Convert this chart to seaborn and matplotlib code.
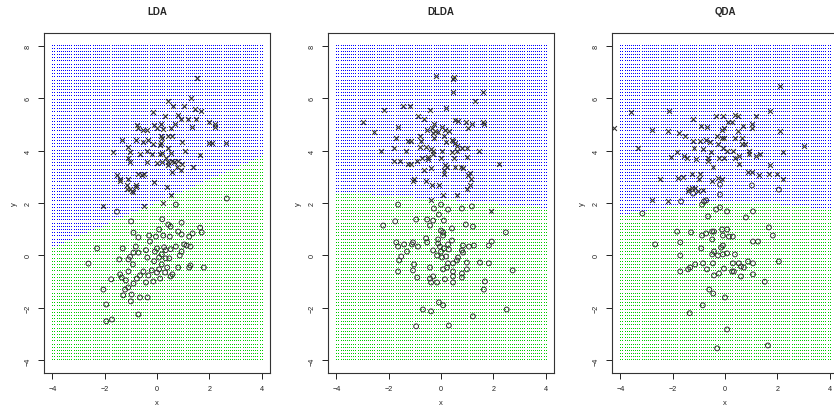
import numpy as np
import pandas as pd
import seaborn as sns
import matplotlib
matplotlib.use("Agg")
import matplotlib.pyplot as plt

# ---- data ----
titles = ["LDA", "DLDA", "QDA"]

# LDA: class "x"
lda_cross_x = [1.52, 1.3, 0.42, 0.6, 1.03, 1.45, 1.68, -0.15, 0.3, 0.8, 0.91, 1.18, 1.5, 1.99, 2.21, 2.2,
               -0.77, -0.71, -0.52, -0.4, -0.11, 0.0, 0.14, 0.24, 0.52, 0.69, 1.32, 0.17, 0.43, 0.59,
               -1.35, -0.81, -0.52, -0.33, -0.14, 0.14, 0.2, 0.11, 0.94, 2.0, 2.1, 2.65, -1.67, -1.09,
               -1.05, -0.65, -0.4, -0.2, 0.12, 0.2, 0.41, 0.52, 1.07, 1.64, -1.09, -1.05, -0.4, 0.0,
               0.2, 0.33, 0.43, 0.56, 0.65, 0.79, 0.94, 0.43, 0.75, 0.91, 1.36, 0.58, -1.52, -1.41,
               -1.09, -0.71, -0.58, -0.49, -0.11, -1.15, -1.03, -0.95, -0.81, 0.37, -2.06, 0.53, -0.5,
               -1.14, -0.8, -0.91, -1.4, 0.24]
lda_cross_y = [6.78, 6.0, 5.87, 5.7, 5.7, 5.6, 5.52, 5.45, 5.3, 5.34, 5.2, 5.22, 5.2, 5.07, 5.03, 4.9,
               4.96, 4.87, 4.8, 4.77, 4.96, 4.87, 5.03, 4.83, 4.87, 5.03, 4.9, 4.57, 4.57, 4.57,
               4.4, 4.4, 4.33, 4.4, 4.24, 4.3, 4.46, 4.2, 4.33, 4.3, 4.3, 4.3, 3.95, 4.14,
               3.95, 3.88, 4.0, 3.88, 3.85, 3.92, 4.1, 3.92, 4.0, 3.82, 3.7, 3.58, 3.58, 3.54,
               3.58, 3.7, 3.58, 3.62, 3.58, 3.62, 3.5, 3.43, 3.39, 3.24, 3.39, 3.2, 3.05, 2.93,
               2.93, 3.12, 3.05, 3.12, 2.81, 2.67, 2.55, 2.45, 2.62, 2.62, 1.87, 2.3, 1.9,
               2.55, 2.67, 2.43, 2.82, 2.0]
# LDA: class "o"
lda_circle_x = [0.72, 2.67, -1.53, -0.99, 0.2, 0.43, 0.52, 0.94, 0.08, 0.81, 0.94, 1.36, 1.65, 1.71, 1.23,
                -0.9, -0.71, -0.3, -0.04, 0.24, 0.49, -0.27, 1.04, 1.13, 1.28, 0.72, -0.81, -1.31, -2.29,
                -0.42, 0.0, 0.27, 0.33, 0.52, -0.08, 0.94, -0.9, -0.71, 0.18, 0.87, -1.03, -1.09, -1.44,
                -0.37, 0.08, 0.33, 0.47, -0.11, -2.62, -0.92, 0.18, 0.39, 0.81, 1.23, 1.28, 1.79, -0.2,
                0.08, -1.09, -0.52, 0.0, 0.31, -1.41, -0.65, -0.33, 0.52, 0.59, -1.75, -1.35, -1.19,
                -0.77, -0.14, 0.12, -0.9, -0.42, -1.22, -1.1, -2.05, -0.97, -1.29, -0.65, -0.36, -1.0,
                -1.94, -0.71, -1.94, -1.72]
lda_circle_y = [1.94, 2.17, 1.67, 1.3, 1.38, 1.18, 1.1, 1.25, 0.99, 0.91, 0.8, 0.84, 1.06, 0.88, 0.72,
                0.87, 0.69, 0.76, 0.72, 0.76, 0.72, 0.53, 0.42, 0.38, 0.34, 0.34, 0.34, 0.27, 0.27,
                0.2, 0.27, 0.31, 0.2, 0.24, 0.15, 0.15, 0.11, 0.11, 0.04, 0.0, -0.05, -0.15, -0.15,
                -0.08, -0.08, -0.11, -0.11, -0.22, -0.31, -0.34, -0.34, -0.46, -0.46, -0.46, -0.38, -0.46, -0.57,
                -0.53, -0.61, -0.61, -0.65, -0.65, -0.72, -0.76, -0.76, -0.8, -0.72, -0.91, -0.84, -0.95,
                -0.88, -0.99, -0.88, -1.07, -1.03, -1.3, -1.22, -1.3, -1.49, -1.52, -1.6, -1.6, -1.75,
                -1.87, -2.25, -2.51, -2.44]

# DLDA
dlda_cross_x = [0.46, 0.46, 1.6, 1.3, -2.17, -1.45, -1.18, -0.42, 0.19, -2.97, -0.88, -0.65, 0.53, 0.65,
                0.95, 1.18, 1.6, 1.64, -2.55, -1.63, -0.27, -0.53, -0.34, -0.23, 0.04, 0.15, 0.3, 1.03,
                -0.3, -0.11, 0.11, -0.8, -1.71, -1.26, -1.14, -0.76, -0.27, 0.19, 0.42, 0.46, 0.53, 0.61,
                -0.8, -0.57, -0.38, -0.3, -2.29, -1.79, -1.33, 0.04, 0.42, 0.61, 0.8, 0.99, 1.45, -0.3,
                -1.79, -1.56, -0.91, -0.72, -0.49, -0.49, 0.0, 0.5, 0.99, -1.26, -1.14, 0.15, 0.23, 0.53,
                0.76, 0.84, 2.21, -0.38, -0.65, 0.11, 0.11, 1.1, 1.03, 1.14, -1.03, -1.07, -0.57, -0.34,
                -0.08, 1.1, 0.99, 0.08, 0.61, -0.38, 1.9, -0.2, 0.5]
dlda_cross_y = [6.74, 6.25, 6.25, 5.9, 5.56, 5.68, 5.68, 5.56, 5.64, 5.1, 5.3, 5.22, 5.18, 5.14,
                5.1, 5.0, 5.1, 5.0, 4.72, 4.91, 5.0, 4.8, 4.84, 4.76, 4.91, 4.8, 4.76, 4.84,
                4.65, 4.72, 4.57, 4.57, 4.46, 4.38, 4.38, 4.38, 4.46, 4.34, 4.42, 4.38, 4.27, 4.19,
                4.15, 4.15, 4.04, 4.0, 4.0, 4.08, 4.0, 4.0, 3.96, 4.0, 4.08, 4.11, 4.0, 3.85,
                3.62, 3.62, 3.62, 3.73, 3.77, 3.66, 3.7, 3.73, 3.77, 3.47, 3.47, 3.43, 3.39, 3.39,
                3.39, 3.35, 3.47, 3.35, 3.24, 3.24, 3.12, 3.16, 3.05, 2.9, 2.9, 2.82, 2.82, 2.7,
                2.7, 2.67, 2.55, 2.29, 2.32, 2.1, 1.71, 6.85, 6.8]
dlda_circle_x = [-1.64, 0.0, -0.27, 0.27, 0.8, 1.18, -0.08, 0.11, -2.21, -1.75, -0.95, -0.53, -0.3, -0.42,
                 0.42, 0.95, 1.22, 2.48, 0.0, 0.08, 0.08, -0.57, -0.11, 0.42, -1.71, -1.41, -1.64, -1.07,
                 -1.11, -0.88, -0.53, -0.11, 0.27, 0.84, 1.07, 1.26, 1.83, 1.94, -0.04, 0.11, -0.3, 0.3,
                 0.8, -1.3, 0.0, 0.84, -0.15, 0.04, 0.19, -1.6, -1.52, 0.65, -1.03, -0.42, 0.27, 0.46,
                 0.61, 0.99, 1.49, 1.83, -1.64, -1.07, 0.08, 0.23, 0.46, 0.99, 2.74, -0.91, -0.42, -0.3,
                 0.15, 0.46, 0.8, -0.38, -0.15, 0.46, 0.8, 1.68, 1.64, -0.08, 0.08, -0.69, -0.38, 2.51,
                 1.22, -0.95, 0.3]
dlda_circle_y = [1.94, 1.94, 1.79, 1.75, 1.79, 1.87, 1.56, 1.33, 1.14, 1.3, 1.37, 1.37, 1.33, 1.14,
                 1.03, 1.18, 1.1, 0.88, 0.95, 0.88, 0.76, 0.65, 0.61, 0.57, 0.5, 0.42, 0.34, 0.5,
                 0.42, 0.34, 0.5, 0.46, 0.42, 0.38, 0.34, 0.38, 0.38, 0.53, 0.34, 0.27, 0.19, 0.23,
                 0.19, 0.15, 0.15, 0.11, 0.0, -0.08, -0.04, -0.19, -0.04, -0.08, -0.34, -0.46, -0.3, -0.3,
                 -0.19, -0.27, -0.27, -0.3, -0.61, -0.57, -0.53, -0.46, -0.61, -0.53, -0.57, -0.84, -0.88, -0.8,
                 -0.91, -0.8, -0.84, -1.03, -1.03, -1.03, -0.69, -0.99, -1.3, -1.79, -1.9, -2.06, -2.13, -2.06,
                 -2.32, -2.7, -2.67]

# QDA
qda_cross_x = [2.1, -3.58, -2.13, 1.71, -1.22, -0.34, -0.08, 0.38, 0.5, 1.18, 0.11, 0.27, 0.69, 1.03,
               1.03, -0.91, -0.69, -4.25, -2.78, -2.17, -0.11, -0.04, 0.5, 2.1, -1.75, -1.52, -0.3, -0.11,
               -0.04, 0.38, 0.65, -1.22, -0.95, -0.72, -0.57, -0.27, 0.65, 0.76, -3.31, 3.01, -1.83, -1.18,
               -0.84, -0.53, -0.08, 0.08, 0.3, 0.91, 0.91, 1.18, 1.33, 2.21, -2.06, -1.56, -1.45, -1.1,
               -0.65, -0.65, -0.23, -0.04, 0.38, 0.53, -0.46, 0.53, 1.71, -1.26, -0.95, 0.88, 1.03, 1.3,
               1.68, 1.98, -2.48, -1.79, -1.6, -0.99, -0.27, -0.11, 2.21, -0.49, -1.37, -1.26, -1.14,
               -1.41, -1.03, -0.84, -2.78, -2.17]
qda_cross_y = [6.47, 5.45, 5.52, 5.52, 5.22, 5.3, 5.3, 5.34, 5.3, 5.3, 5.1, 5.07, 4.95, 5.03,
               4.84, 4.95, 4.91, 4.84, 4.8, 4.76, 4.8, 4.84, 4.76, 4.76, 4.68, 4.57, 4.57, 4.49,
               4.46, 4.46, 4.49, 4.38, 4.38, 4.42, 4.34, 4.23, 4.23, 4.23, 4.11, 4.19, 3.96, 4.08,
               4.04, 3.96, 4.08, 4.0, 4.0, 4.0, 3.88, 3.81, 3.85, 3.96, 3.77, 3.81, 3.7, 3.66,
               3.73, 3.62, 3.73, 3.7, 3.73, 3.81, 3.39, 3.47, 3.43, 3.12, 3.12, 3.2, 3.2, 3.05,
               3.12, 3.12, 2.9, 2.97, 3.01, 2.9, 2.97, 2.9, 2.93, 2.82, 2.55, 2.59, 2.59,
               2.44, 2.44, 2.51, 2.13, 2.06]
qda_circle_x = [-0.19, 1.03, 2.06, -1.22, -1.68, -0.72, -0.8, -0.88, -0.19, -0.34, -0.19, 0.08, 1.07, -3.16,
                -0.65, 0.8, 1.68, -1.83, -1.3, -0.72, -0.49, -0.42, -0.11, 0.08, 1.83, -0.88, -0.49, -0.08,
                0.15, 0.3, -1.71, -2.67, -0.15, -0.08, 1.07, 1.26, -0.91, -0.42, -0.27, -0.49, -0.08, 0.08,
                0.38, -1.71, -1.14, -0.84, -0.46, 0.3, 0.53, 0.88, 1.07, 2.06, -1.33, -1.41, -1.71, -0.69,
                -0.04, -0.23, -0.42, 0.27, 0.34, 0.61, 0.72, 1.07, 0.61, 1.52, -1.35, -0.85, -0.3, 1.64,
                0.08, -0.6, 0.0, -0.45]
qda_circle_y = [2.7, 2.67, 2.51, 2.36, 2.06, 2.1, 2.06, 1.94, 2.32, 1.75, 1.83, 1.68, 1.68, 1.6,
                1.49, 1.45, 1.07, 0.91, 0.88, 0.84, 0.91, 0.91, 0.99, 0.99, 0.76, 0.76, 0.61, 0.76,
                0.72, 0.72, 0.5, 0.42, 0.3, 0.38, 0.53, 0.53, 0.27, 0.15, 0.0, 0.04, 0.04, 0.08,
                0.04, 0.0, -0.34, -0.3, -0.3, -0.3, -0.3, -0.23, -0.3, -0.23, -0.46, -0.53, -0.61, -0.53,
                -0.5, -0.69, -0.76, -0.61, -0.61, -0.42, -0.46, -0.72, -0.8, -1.0, -2.2, -1.9, -3.54, -3.43,
                -2.82, -1.3, -1.6, -1.45]

# class boundary heights (y) read at x = -4, 0, 4 ; blue above, green below
boundary_x = [-4, 0, 4]
lda_boundary = [0.28, 2.02, 3.76]
dlda_boundary = [2.4, 2.1, 1.8]
qda_boundary = [1.5, 2.0, 1.7]

panels = [
    (lda_cross_x, lda_cross_y, lda_circle_x, lda_circle_y, lda_boundary, 1),
    (dlda_cross_x, dlda_cross_y, dlda_circle_x, dlda_circle_y, dlda_boundary, 1),
    (qda_cross_x, qda_cross_y, qda_circle_x, qda_circle_y, qda_boundary, 2),
]

sns.set_theme(style="ticks")
plt.rcParams['font.family'] = ['Liberation Sans', 'DejaVu Sans']

W, H = 834, 410
fig = plt.figure(figsize=(W / 100, H / 100), dpi=100)

# evaluation grid (100 x 100) of the partition plot
gx, gy = np.meshgrid(np.linspace(-4, 4, 100), np.linspace(-4, 8, 100))
gx = gx.ravel()
gy = gy.ravel()

lefts = [44, 328, 612]
for i, (cx, cy, ox, oy, bnd, deg) in enumerate(panels):
    ax = fig.add_axes([lefts[i] / W, 36 / H, 226 / W, 340 / H])
    coef = np.polyfit(boundary_x, bnd, deg)
    upper = gy > np.polyval(coef, gx)
    # pixel dots, like pch="."
    ax.plot(gx[upper], gy[upper], ',', color='#0000FF', zorder=2)
    ax.plot(gx[~upper], gy[~upper], ',', color='#00CC00', zorder=2)

    sns.scatterplot(x=cx, y=cy, marker='x', s=12, color='#333333', linewidth=0.8, ax=ax, zorder=3)
    sns.scatterplot(x=ox, y=oy, marker='o', s=12, facecolors='none', edgecolor='#333333',
                    linewidth=0.7, ax=ax, zorder=3)

    ax.set_xlim(-4.32, 4.32)
    ax.set_ylim(-4.48, 8.48)
    ax.set_xticks([-4, -2, 0, 2, 4])
    ax.set_yticks([-4, -2, 0, 2, 4, 6, 8])
    ax.tick_params(labelsize=5.2, length=4, width=0.7, pad=5, colors='#222222')
    for lab in ax.get_yticklabels():
        lab.set_rotation(90)
        lab.set_va('center')
    for sp in ax.spines.values():
        sp.set_linewidth(0.8)
        sp.set_color('#333333')
    ax.set_xlabel("x", fontsize=5.5, labelpad=5)
    ax.set_ylabel("y", fontsize=5.5, labelpad=5)
    ax.set_title(titles[i], fontsize=7, fontweight='bold', pad=14)

fig.savefig("out.png", dpi=100)
